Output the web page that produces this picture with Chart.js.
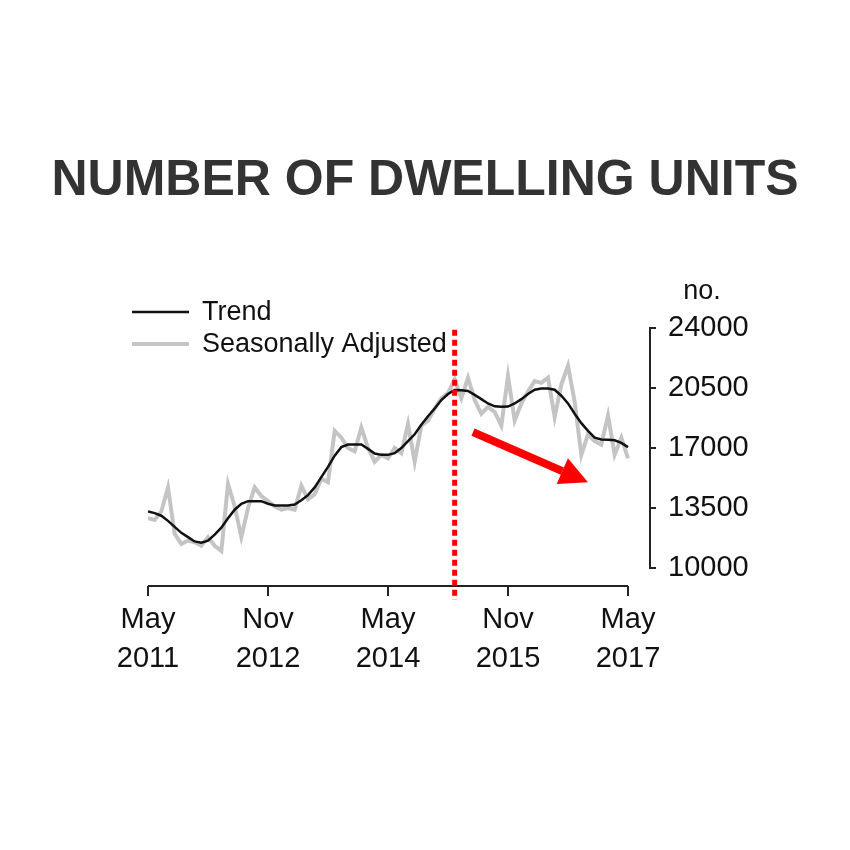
<!DOCTYPE html>
<html>
<head>
<meta charset="utf-8">
<script src="https://cdn.jsdelivr.net/npm/chart.js@4.4.1/dist/chart.umd.min.js"></script>
<style>
  html, body { margin: 0; padding: 0; background: #fff; }
  #wrap { width: 850px; height: 850px; }
</style>
</head>
<body>
<div id="wrap"><canvas id="c" width="850" height="850"></canvas></div>
<script>
// months counted from May 2011 (0) to May 2017 (72)
const tickMonths = [0, 18, 36, 54, 72];
const tickLabels = [['May', '2011'], ['Nov', '2012'], ['May', '2014'], ['Nov', '2015'], ['May', '2017']];
const yTicks = [10000, 13500, 17000, 20500, 24000];

const trend = [
  13300, 13200, 13050, 12750, 12400, 12050, 11800, 11550, 11480, 11600,
  11950, 12350, 12900, 13400, 13750, 13900, 13900, 13900, 13750, 13650,
  13650, 13650, 13700, 13950, 14250, 14700, 15300, 15900, 16550, 17050,
  17200, 17200, 17200, 16950, 16680, 16600, 16600, 16700, 17000, 17400,
  17800, 18350, 18850, 19300, 19800, 20150, 20380, 20370, 20330, 20100,
  19850, 19600, 19430, 19400, 19420, 19600, 19850, 20150, 20400, 20470,
  20470, 20400, 20050, 19600, 19000, 18450, 18000, 17600, 17500, 17480,
  17450, 17300, 17050
];
const seasAdj = [
  12900, 12800, 13300, 14700, 12000, 11400, 11600, 11500, 11300, 11800,
  11300, 11000, 14900, 13600, 11800, 13500, 14700, 14200, 13900, 13600,
  13400, 13500, 13400, 14800, 14000, 14300, 15200, 15000, 18000, 17600,
  17000, 16800, 18200, 17000, 16200, 16600, 16400, 17000, 16700, 18400,
  16200, 18300, 18600, 19300, 19900, 20200, 21000, 19900, 21100, 19800,
  19000, 19400, 19100, 18300, 21200, 18600, 19600, 20300, 20900, 20800,
  21100, 18800, 20700, 21800, 19700, 16600, 17800, 17400, 17200, 18900,
  16600, 17600, 16400
];

const markerMonth = 46; // Mar 2015
const arrowFrom = { x: 48.75, y: 17930 };
const arrowTo = { x: 66, y: 15000 };

const toPoints = arr => arr.map((v, i) => ({ x: i, y: v }));
const FONT = 'Liberation Sans, Arial, sans-serif';

const decor = {
  id: 'decor',
  afterDatasetsDraw(chart) {
    const { ctx, scales: { x, y } } = chart;
    ctx.save();
    // axes
    ctx.strokeStyle = '#222';
    ctx.lineWidth = 2;
    const xb = chart.chartArea.bottom;
    ctx.beginPath();
    ctx.moveTo(x.getPixelForValue(tickMonths[0]), xb);
    ctx.lineTo(x.getPixelForValue(tickMonths[tickMonths.length - 1]), xb);
    tickMonths.forEach(m => {
      const px = x.getPixelForValue(m);
      ctx.moveTo(px, xb);
      ctx.lineTo(px, xb + 10);
    });
    const yr = chart.chartArea.right;
    ctx.moveTo(yr, y.getPixelForValue(yTicks[0]));
    ctx.lineTo(yr, y.getPixelForValue(yTicks[yTicks.length - 1]));
    yTicks.forEach(v => {
      const py = y.getPixelForValue(v);
      ctx.moveTo(yr - 1, py);
      ctx.lineTo(yr + 6, py);
    });
    ctx.stroke();

    // dotted marker
    ctx.strokeStyle = '#ff0000';
    ctx.lineWidth = 5;
    ctx.setLineDash([6, 4]);
    const mx = x.getPixelForValue(markerMonth);
    ctx.beginPath();
    ctx.moveTo(mx, y.getPixelForValue(23900));
    ctx.lineTo(mx, xb + 14);
    ctx.stroke();
    ctx.setLineDash([]);

    // arrow
    const x0 = x.getPixelForValue(arrowFrom.x), y0 = y.getPixelForValue(arrowFrom.y);
    const x1 = x.getPixelForValue(arrowTo.x), y1 = y.getPixelForValue(arrowTo.y);
    const ang = Math.atan2(y1 - y0, x1 - x0);
    const hl = 28, hw = 14;
    const bx = x1 - hl * Math.cos(ang), by = y1 - hl * Math.sin(ang);
    ctx.strokeStyle = '#ff0000';
    ctx.fillStyle = '#ff0000';
    ctx.lineWidth = 8;
    ctx.beginPath();
    ctx.moveTo(x0, y0);
    ctx.lineTo(bx, by);
    ctx.stroke();
    ctx.beginPath();
    ctx.moveTo(x1, y1);
    ctx.lineTo(bx + hw * Math.sin(ang), by - hw * Math.cos(ang));
    ctx.lineTo(bx - hw * Math.sin(ang), by + hw * Math.cos(ang));
    ctx.closePath();
    ctx.fill();

    // legend
    ctx.font = '27px ' + FONT;
    ctx.textBaseline = 'middle';
    ctx.fillStyle = '#111';
    const rows = [312, 344];
    chart.data.datasets.forEach((ds, i) => {
      ctx.strokeStyle = ds.borderColor;
      ctx.lineWidth = ds.borderWidth;
      ctx.beginPath();
      ctx.moveTo(132, rows[i]);
      ctx.lineTo(189, rows[i]);
      ctx.stroke();
      ctx.fillText(ds.label, 202, rows[i] + 1);
    });

    // unit label
    ctx.textAlign = 'center';
    ctx.fillText('no.', 702, 292);
    ctx.restore();
  }
};

new Chart(document.getElementById('c'), {
  type: 'line',
  data: {
    datasets: [
      { label: 'Trend', data: toPoints(trend), borderColor: '#111', borderWidth: 2.5 },
      { label: 'Seasonally Adjusted', data: toPoints(seasAdj), borderColor: '#c4c4c4', borderWidth: 4 }
    ]
  },
  options: {
    responsive: false,
    animation: false,
    events: [],
    layout: { padding: 0 },
    elements: { point: { radius: 0 }, line: { tension: 0 } },
    plugins: {
      legend: { display: false },
      tooltip: { enabled: false },
      title: {
        display: true,
        text: 'NUMBER OF DWELLING UNITS',
        color: '#333',
        font: { family: FONT, size: 50, weight: 'bold', lineHeight: 1.2 },
        padding: { top: 151, bottom: 117 }
      }
    },
    scales: {
      x: {
        type: 'linear',
        min: 0,
        max: 75.3,
        afterBuildTicks: s => { s.ticks = tickMonths.map(v => ({ value: v })); },
        afterFit: s => { s.height = 264; },
        grid: { display: false, drawTicks: false },
        border: { display: false },
        ticks: {
          color: '#111',
          padding: 14,
          maxRotation: 0,
          autoSkip: false,
          font: { family: FONT, size: 29, lineHeight: 1.35 },
          callback: (v, i) => tickLabels[i]
        }
      },
      y: {
        position: 'right',
        min: 8950,
        max: 24000,
        afterBuildTicks: s => { s.ticks = yTicks.map(v => ({ value: v })); },
        afterFit: s => { s.width = 200; },
        grid: { display: false, drawTicks: false },
        border: { display: false },
        ticks: {
          color: '#111',
          padding: 18,
          font: { family: FONT, size: 29 },
          callback: v => String(v)
        }
      },
      // empty left gutter so the title stays centred on the page
      gutter: {
        position: 'left',
        display: true,
        afterFit: s => { s.width = 148; },
        grid: { display: false, drawTicks: false },
        border: { display: false },
        ticks: { display: false }
      }
    }
  },
  plugins: [decor]
});
</script>
</body>
</html>
